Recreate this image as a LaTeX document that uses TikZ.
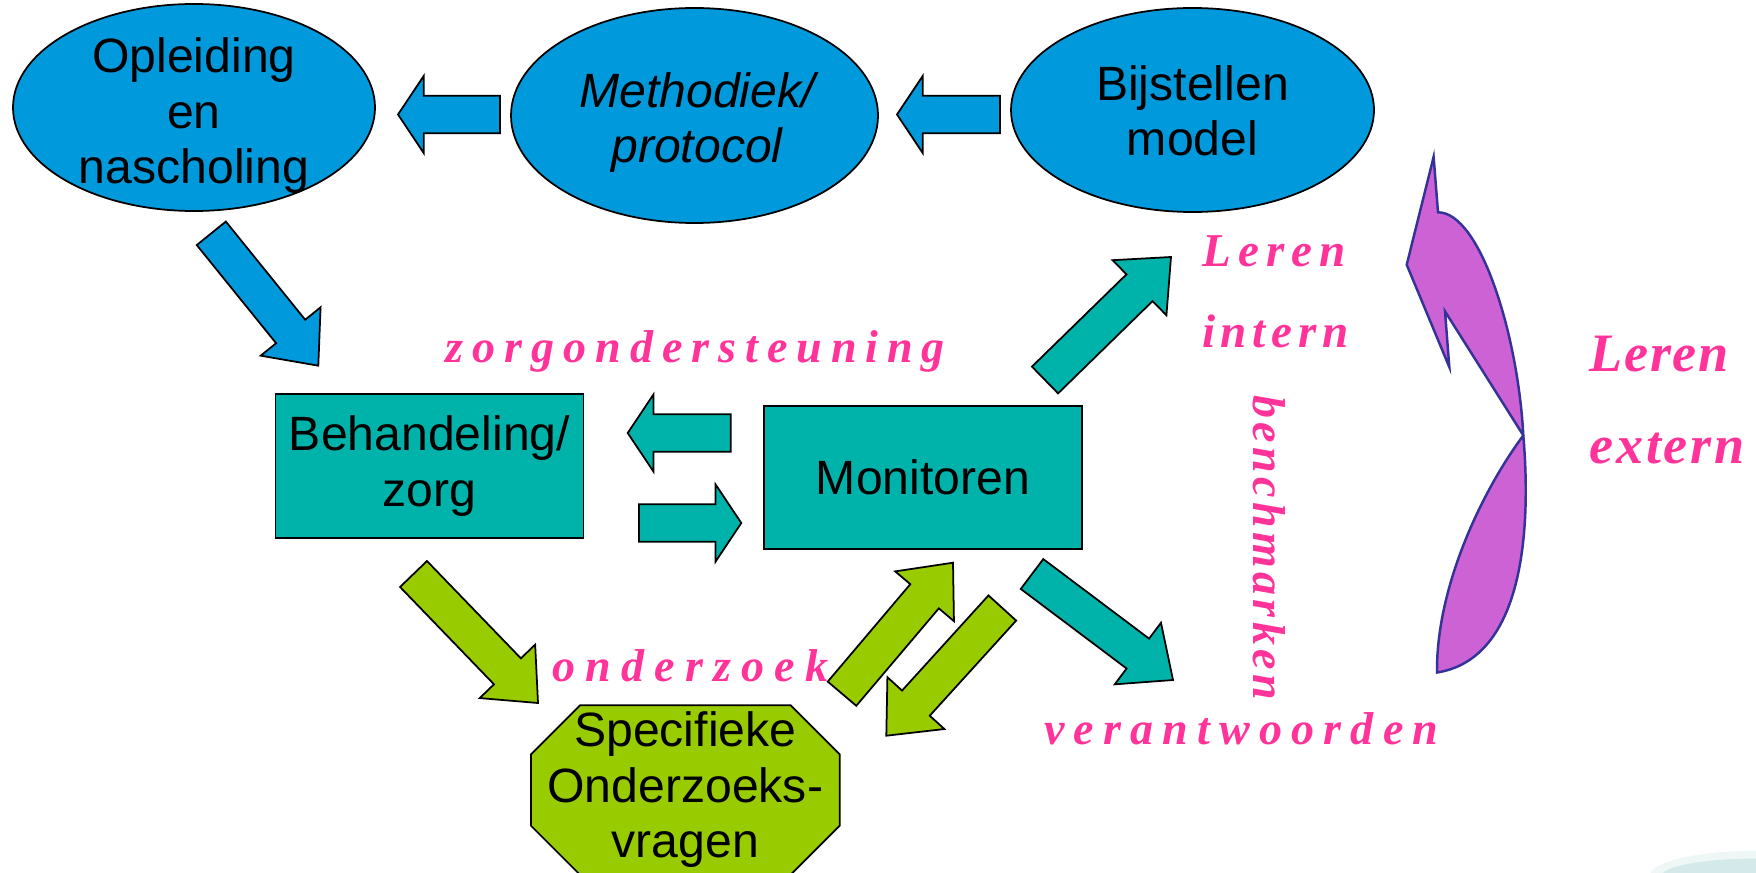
\documentclass[tikz,border=0pt]{standalone}
\usepackage{fontspec}
\setmainfont{Liberation Sans}
\newfontfamily\pinkfont{Liberation Serif}
\usetikzlibrary{shapes.geometric,calc,backgrounds}

\definecolor{ellblue}{RGB}{0,154,220}
\definecolor{boxteal}{RGB}{0,179,170}
\definecolor{leafgreen}{RGB}{153,204,0}
\definecolor{hotpink}{RGB}{255,51,153}
\definecolor{orchidfill}{RGB}{204,98,212}
\definecolor{orchidline}{RGB}{51,51,153}
\definecolor{fadeteal}{RGB}{212,233,233}
\definecolor{fadeteallight}{RGB}{238,246,246}

\newcommand{\diagfont}{\fontsize{13.7}{15.8}\selectfont}
\newcommand{\pinkset}[2]{\fontsize{#1}{#1}\selectfont\addfontfeatures{LetterSpace=#2}}
\newcommand{\shaftw}{0.187cm}
\newcommand{\headw}{0.385cm}
% block arrow: name, fill, tail, tip, head length
\newcommand{\blkarrow}[5]{%
  \coordinate (#1-h) at ($(#4)!#5!(#3)$);
  \draw[arrowbody, fill=#2] ($(#3)!\shaftw!90:(#4)$) -- ($(#1-h)!\shaftw!90:(#4)$)
    -- ($(#1-h)!\headw!90:(#4)$) -- (#4) -- ($(#1-h)!\headw!-90:(#4)$)
    -- ($(#1-h)!\shaftw!-90:(#4)$) -- ($(#3)!\shaftw!-90:(#4)$) -- cycle;}

\begin{document}
\begin{tikzpicture}[
    ellbox/.style={ellipse, draw, fill=ellblue, line width=0.5pt, inner sep=0pt},
    tealbox/.style={rectangle, draw, fill=boxteal, line width=0.5pt, align=center, font=\diagfont},
    bigtext/.style={align=center, font=\diagfont, inner sep=0pt},
    arrowbody/.style={draw=black, line width=0.5pt, line join=miter},
    pinktext/.style={text=hotpink, inner sep=0pt, anchor=base west, font=\pinkfont\bfseries\itshape}]
  \useasboundingbox (0,0) rectangle (17.56,-8.72);

  % faint corner of the slide background
  \begin{scope}
    \clip (0,0) rectangle (17.56,-8.72);
    \fill[fadeteallight] (17.60,-8.755) ellipse (1.1cm and 0.25cm);
    \fill[fadeteal] (17.60,-8.755) ellipse (0.98cm and 0.17cm);
  \end{scope}

  % top row
  \node[ellbox, minimum width=3.62cm, minimum height=2.07cm] (opl) at (1.94,-1.075) {};
  \node[ellbox, minimum width=3.67cm, minimum height=2.15cm] (meth) at (6.945,-1.155) {};
  \node[ellbox, minimum width=3.63cm, minimum height=2.04cm] (bijst) at (11.925,-1.10) {};
  \node[bigtext] (opltxt) at (1.94,-1.156) {Opleiding\\en\\nascholing};
  \node[bigtext, font=\diagfont\itshape] (methtxt) at (6.97,-1.225) {Methodiek/\\protocol};
  \node[bigtext] (bijsttxt) at (11.925,-1.109) {Bijstellen\\model};

  % middle row
  \node[tealbox, minimum width=3.08cm, minimum height=1.44cm] (beh) at (4.295,-4.66) {Behandeling/\\zorg};
  \node[tealbox, minimum width=3.18cm, minimum height=1.43cm] (mon) at (9.23,-4.775) {Monitoren};

  % bottom
  \node[bigtext, minimum width=3.073cm, minimum height=1.68cm] (spec) at (6.853,-7.90) {Specifieke\\Onderzoeks-\\vragen};
  \begin{scope}[on background layer]
    \draw[arrowbody, fill=leafgreen] ([xshift=0.49cm]spec.north west) -- ([xshift=-0.49cm]spec.north east)
      -- ([yshift=-0.49cm]spec.north east) -- ([yshift=0.49cm]spec.south east)
      -- ([xshift=-0.49cm]spec.south east) -- ([xshift=0.49cm]spec.south west)
      -- ([yshift=0.49cm]spec.south west) -- ([yshift=-0.49cm]spec.north west) -- cycle;
  \end{scope}

  % arrow ends
  \coordinate (mo-s) at (5.00,-1.145);
  \coordinate (mo-e) at (3.98,-1.145);
  \coordinate (bm-s) at (10.00,-1.145);
  \coordinate (bm-e) at (8.97,-1.145);
  \coordinate (ob-s) at (2.113,-2.333);
  \coordinate (ob-e) at (3.183,-3.657);
  \coordinate (mb-s) at (7.307,-4.33);
  \coordinate (mb-e) at (6.277,-4.33);
  \coordinate (bm2-s) at (6.39,-5.23);
  \coordinate (bm2-e) at (7.413,-5.23);
  \coordinate (li-s) at (10.45,-3.80);
  \coordinate (li-e) at (11.71,-2.57);
  \coordinate (ve-s) at (10.32,-5.74);
  \coordinate (ve-e) at (11.73,-6.80);
  \coordinate (bs-s) at (4.135,-5.74);
  \coordinate (bs-e) at (5.38,-7.03);
  \coordinate (sm-s) at (8.42,-6.937);
  \coordinate (sm-e) at (9.53,-5.627);
  \coordinate (ms-s) at (10.023,-6.08);
  \coordinate (ms-e) at (8.863,-7.357);

  \blkarrow{mo}{ellblue}{mo-s}{mo-e}{0.257cm}
  \blkarrow{bm}{ellblue}{bm-s}{bm-e}{0.257cm}
  \blkarrow{ob}{ellblue}{ob-s}{ob-e}{0.44cm}
  \blkarrow{mb}{boxteal}{mb-s}{mb-e}{0.257cm}
  \blkarrow{bmt}{boxteal}{bm2-s}{bm2-e}{0.257cm}
  \blkarrow{li}{boxteal}{li-s}{li-e}{0.44cm}
  \blkarrow{ve}{boxteal}{ve-s}{ve-e}{0.44cm}
  \blkarrow{bs}{leafgreen}{bs-s}{bs-e}{0.44cm}
  \blkarrow{sm}{leafgreen}{sm-s}{sm-e}{0.44cm}
  \blkarrow{ms}{leafgreen}{ms-s}{ms-e}{0.44cm}

  % curved arrow on the right
  \draw[orchidline, fill=orchidfill, line width=0.7pt, line join=miter]
    (14.336,-1.568) -- (14.38,-2.123)
    .. controls (14.80,-2.123) and (15.18,-3.345) .. (15.233,-4.354)
    .. controls (15.31,-5.258) and (15.25,-6.585) .. (14.37,-6.725)
    .. controls (14.36,-5.894) and (14.80,-4.938) .. (15.233,-4.354)
    -- (14.45,-3.114) -- (14.493,-3.671) -- (14.067,-2.647) -- cycle;

  % labels
  \node[pinktext] (zorg) at (4.45,-3.623) {\pinkset{13.1}{19.5}zorgondersteuning};
  \node[pinktext] (lerin) at (12.015,-2.664) {\pinkset{13.4}{15}Leren};
  \node[pinktext] (intern) at (12.015,-3.47) {\pinkset{13.4}{12}intern};
  \node[pinktext] (lerex) at (15.89,-3.71) {\pinkset{15.4}{3}Leren};
  \node[pinktext] (extern) at (15.89,-4.637) {\pinkset{15.4}{5}extern};
  \node[pinktext, rotate=-90] (bench) at (12.53,-3.945) {\pinkset{13.1}{9.5}benchmarken};
  \node[pinktext] (verant) at (10.433,-7.443) {\pinkset{13.1}{20}verantwoorden};
  \node[pinktext] (onderz) at (5.52,-6.817) {\pinkset{13.1}{22}onderzoek};
\end{tikzpicture}
\end{document}
